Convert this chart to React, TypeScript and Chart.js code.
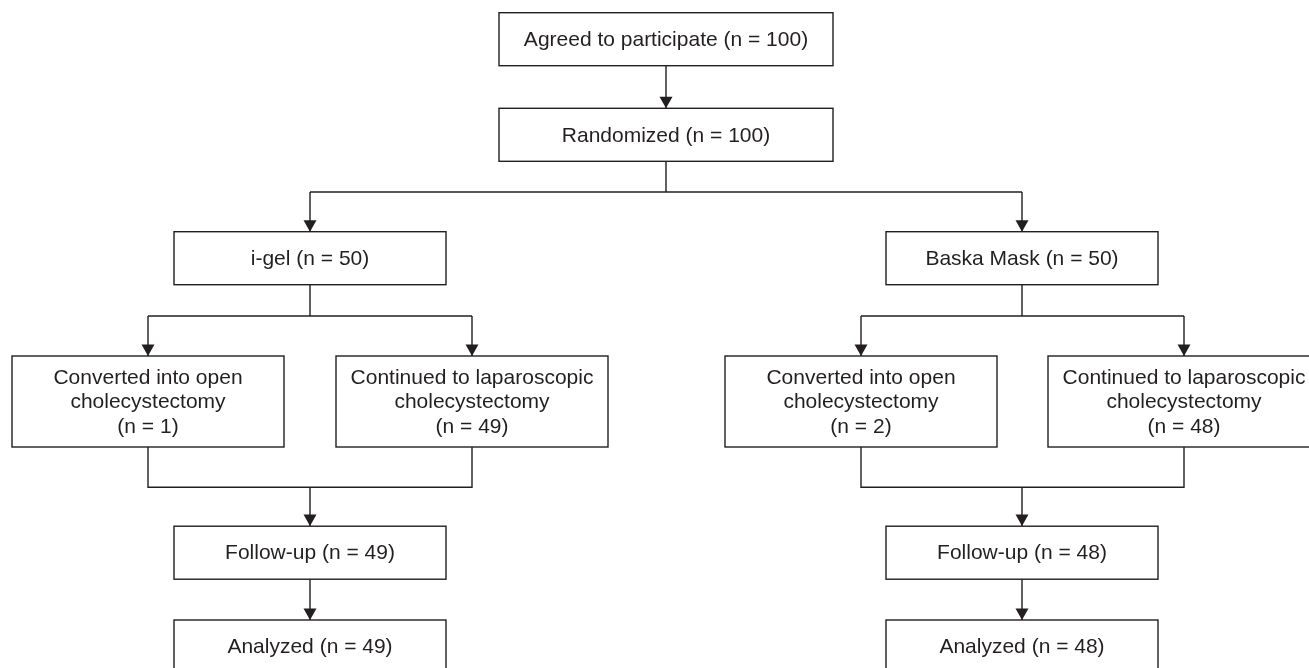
import React, { useEffect, useRef } from "react";
import { Chart, registerables } from "chart.js";

Chart.register(...registerables);

// Flowchart nodes (layout units on a 0..1309 x 0..668 scale)
const nodeText: string[][] = [
  ["Agreed to participate (n = 100)"],
  ["Randomized (n = 100)"],
  ["i-gel (n = 50)"],
  ["Baska Mask (n = 50)"],
  ["Converted into open", "cholecystectomy", "(n = 1)"],
  ["Continued to laparoscopic", "cholecystectomy", "(n = 49)"],
  ["Converted into open", "cholecystectomy", "(n = 2)"],
  ["Continued to laparoscopic", "cholecystectomy", "(n = 48)"],
  ["Follow-up (n = 49)"],
  ["Analyzed (n = 49)"],
  ["Follow-up (n = 48)"],
  ["Analyzed (n = 48)"],
];
const nodeX = [666, 666, 310, 1022, 148, 472, 861, 1184, 310, 310, 1022, 1022];
const nodeY = [39.2, 134.8, 258.2, 258.2, 401.5, 401.5, 401.5, 401.5, 552.7, 646.5, 552.7, 646.5];
const nodeW = [334, 334, 272, 272, 272, 272, 272, 272, 272, 272, 272, 272];
const nodeH = [53, 53, 53, 53, 91, 91, 91, 91, 53, 53, 53, 53];

// Connector polylines: [x, y] points; arrow at end if flagged
const connectors: number[][][] = [
  [[666, 65.7], [666, 108.3]],
  [[666, 161.3], [666, 192]],
  [[310, 192], [1022, 192]],
  [[310, 192], [310, 231.7]],
  [[1022, 192], [1022, 231.7]],
  [[310, 284.7], [310, 316]],
  [[148, 316], [472, 316]],
  [[148, 316], [148, 356]],
  [[472, 316], [472, 356]],
  [[1022, 284.7], [1022, 316]],
  [[861, 316], [1184, 316]],
  [[861, 316], [861, 356]],
  [[1184, 316], [1184, 356]],
  [[148, 447], [148, 487.3], [472, 487.3], [472, 447]],
  [[310, 487.3], [310, 526]],
  [[861, 447], [861, 487.3], [1184, 487.3], [1184, 447]],
  [[1022, 487.3], [1022, 526]],
  [[310, 579.3], [310, 620]],
  [[1022, 579.3], [1022, 620]],
];
const connectorArrow = [true, false, false, true, true, false, false, true, true, false, false, true, true, false, true, false, true, true, true];

const INK = "#231f20";

const flowPlugin = {
  id: "flowPlugin",
  afterDatasetsDraw(chart: any) {
    const { ctx, scales } = chart;
    const xs = scales.x;
    const ys = scales.y;
    ctx.save();
    // arrowheads
    ctx.fillStyle = INK;
    connectors.forEach((pts, i) => {
      if (!connectorArrow[i]) return;
      const [tx, ty] = pts[pts.length - 1];
      const px = xs.getPixelForValue(tx);
      const py = ys.getPixelForValue(ty);
      ctx.beginPath();
      ctx.moveTo(px, py);
      ctx.lineTo(px - 6.5, py - 11.5);
      ctx.lineTo(px + 6.5, py - 11.5);
      ctx.closePath();
      ctx.fill();
    });
    // boxes
    ctx.strokeStyle = INK;
    ctx.lineWidth = 1.4;
    ctx.font = '21px "Liberation Sans", Arial, sans-serif';
    ctx.textAlign = "center";
    ctx.textBaseline = "middle";
    nodeText.forEach((lines, i) => {
      const l = xs.getPixelForValue(nodeX[i] - nodeW[i] / 2);
      const r = xs.getPixelForValue(nodeX[i] + nodeW[i] / 2);
      const t = ys.getPixelForValue(nodeY[i] - nodeH[i] / 2);
      const b = ys.getPixelForValue(nodeY[i] + nodeH[i] / 2);
      ctx.fillStyle = "#ffffff";
      ctx.fillRect(l, t, r - l, b - t);
      ctx.strokeRect(l, t, r - l, b - t);
      ctx.fillStyle = INK;
      const cx = xs.getPixelForValue(nodeX[i]);
      const cy = ys.getPixelForValue(nodeY[i]);
      const spacing = 24.5;
      lines.forEach((s, j) => {
        const off = (j - (lines.length - 1) / 2) * spacing;
        ctx.fillText(s, cx, cy + off + 1);
      });
    });
    ctx.restore();
  },
};

export default function App() {
  const ref = useRef<HTMLCanvasElement | null>(null);
  useEffect(() => {
    if (!ref.current) return;
    const chart = new Chart(ref.current, {
      type: "scatter",
      data: {
        datasets: connectors.map((pts) => ({
          data: pts.map(([x, y]) => ({ x, y })),
          showLine: true,
          borderColor: INK,
          borderWidth: 1.4,
          pointRadius: 0,
          pointHoverRadius: 0,
          fill: false,
          tension: 0,
        })),
      },
      options: {
        animation: false,
        responsive: false,
        maintainAspectRatio: false,
        devicePixelRatio: 1,
        layout: { padding: 0 },
        events: [],
        scales: {
          x: { type: "linear", min: 0, max: 1309, display: false },
          y: { type: "linear", min: 0, max: 668, reverse: true, display: false },
        },
        plugins: {
          legend: { display: false },
          tooltip: { enabled: false },
        },
      },
      plugins: [flowPlugin],
    });
    return () => chart.destroy();
  }, []);
  return (
    <div style={{ position: "absolute", left: 0, top: 0, width: 1309, height: 668, background: "#ffffff", overflow: "hidden" }}>
      <canvas ref={ref} width={1309} height={668} style={{ display: "block" }} />
    </div>
  );
}
